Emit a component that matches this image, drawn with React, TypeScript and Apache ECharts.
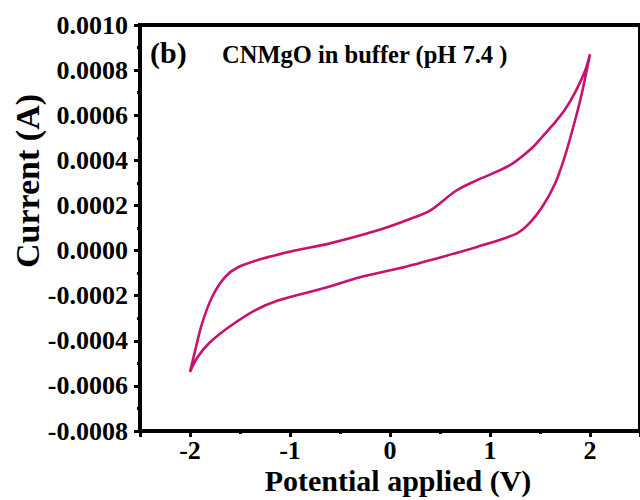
import React, { useEffect, useRef } from "react";
import * as echarts from "echarts";

// Cyclic voltammogram loop, in scan order (forward branch then reverse branch)
const potentialV: number[] = [
  -2.0, -1.93, -1.81, -1.61, -1.35, -1.12, -0.62, -0.3, 0.07, 0.53, 0.86, 1.26, 1.39, 1.52, 1.65, 1.75, 1.84, 1.92, 2.0,
  1.95, 1.85, 1.75, 1.65, 1.55, 1.42, 1.19, 0.86, 0.66, 0.4, 0.2, -0.13, -0.62, -0.95, -1.28, -1.52, -1.65, -1.78, -1.88, -1.94, -2.0,
];
const currentA: number[] = [
  -0.000538, -0.000476, -0.000411, -0.000339, -0.000265, -0.000221, -0.000162, -0.000118, -0.000081, -0.000027, 0.000015,
  0.000074, 0.000119, 0.000192, 0.000296, 0.00042, 0.00056, 0.0007, 0.00087,
  0.000796, 0.0007, 0.000625, 0.000568, 0.000518, 0.000455, 0.000376, 0.00031, 0.000265, 0.000177, 0.00014, 0.0000885,
  0.0000296, 0.0, -0.0000367, -0.0000739, -0.000118, -0.000207, -0.000324, -0.000428, -0.000538,
];

const xTitle = "Potential applied (V)";
const yTitle = "Current (A)";
const panelLabel = "(b)";
const annotation = "CNMgO in buffer (pH 7.4 )";

const FONT = "'Liberation Serif', 'Times New Roman', serif";
const LINE_COLOR = "#C8126E";

export default function App() {
  const ref = useRef<HTMLDivElement>(null);
  useEffect(() => {
    if (!ref.current) return;
    const chart = echarts.init(ref.current, undefined, { renderer: "svg" });
    const data = potentialV.map((v, i) => [v, currentA[i]]);
    chart.setOption({
      animation: false,
      backgroundColor: "#fff",
      grid: {
        left: 140,
        top: 25,
        width: 506,
        height: 406,
        show: true,
        borderColor: "#000",
        borderWidth: 4,
        backgroundColor: "transparent",
      },
      xAxis: {
        type: "value",
        min: -2.5,
        max: 2.5,
        splitNumber: 5,
        splitLine: { show: false },
        axisLine: { show: true, onZero: false, lineStyle: { color: "#000", width: 4 } },
        axisTick: { show: true, inside: false, length: 6, lineStyle: { color: "#000", width: 3 } },
        minorTick: { show: true, splitNumber: 2, length: 3, lineStyle: { color: "#000", width: 3 } },
        axisLabel: {
          showMinLabel: false,
          showMaxLabel: false,
          margin: 6,
          color: "#000",
          fontFamily: FONT,
          fontWeight: "bold",
          fontSize: 26,
          lineHeight: 26,
          formatter: (v: number) => String(Math.round(v)),
        },
      },
      yAxis: {
        type: "value",
        min: -0.0008,
        max: 0.001,
        interval: 0.0002,
        splitLine: { show: false },
        axisLine: { show: true, onZero: false, lineStyle: { color: "#000", width: 4 } },
        axisTick: { show: true, inside: false, length: 6, lineStyle: { color: "#000", width: 3 } },
        minorTick: { show: true, splitNumber: 2, length: 3, lineStyle: { color: "#000", width: 3 } },
        axisLabel: {
          margin: 12,
          color: "#000",
          fontFamily: FONT,
          fontWeight: "bold",
          fontSize: 26,
          formatter: (v: number) => (Math.abs(v) < 1e-10 ? "0.0000" : v.toFixed(4)),
        },
      },
      series: [
        {
          type: "line",
          data,
          showSymbol: false,
          smooth: 0.3,
          lineStyle: { color: LINE_COLOR, width: 2.6 },
        },
      ],
      graphic: [
        {
          type: "text",
          x: 27,
          y: 181,
          rotation: Math.PI / 2,
          style: {
            text: yTitle,
            fontFamily: FONT,
            fontWeight: "bold",
            fontSize: 34,
            fill: "#000",
            textAlign: "center",
            textVerticalAlign: "middle",
          },
        },
        {
          type: "text",
          x: 398,
          y: 480,
          style: {
            text: xTitle,
            fontFamily: FONT,
            fontWeight: "bold",
            fontSize: 30,
            fill: "#000",
            textAlign: "center",
            textVerticalAlign: "middle",
          },
        },
        {
          type: "text",
          x: 150,
          y: 52,
          style: {
            text: panelLabel,
            fontFamily: FONT,
            fontWeight: "bold",
            fontSize: 30,
            fill: "#000",
            textAlign: "left",
            textVerticalAlign: "middle",
          },
        },
        {
          type: "text",
          x: 222,
          y: 54,
          style: {
            text: annotation,
            fontFamily: FONT,
            fontWeight: "bold",
            fontSize: 24.5,
            fill: "#000",
            textAlign: "left",
            textVerticalAlign: "middle",
          },
        },
      ],
    });
    return () => chart.dispose();
  }, []);
  return (
    <div style={{ position: "fixed", left: 0, top: 0, width: 640, height: 500, overflow: "hidden", background: "#fff" }}>
      <div ref={ref} style={{ width: 640, height: 500 }} />
    </div>
  );
}
